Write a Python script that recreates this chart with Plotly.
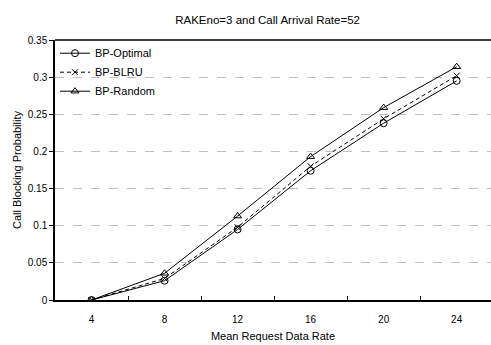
import plotly.graph_objects as go

categories = ["4", "8", "12", "16", "20", "24"]
bp_optimal = [0.0, 0.026, 0.095, 0.174, 0.238, 0.295]
bp_blru = [0.0, 0.029, 0.098, 0.180, 0.244, 0.302]
bp_random = [0.0, 0.036, 0.113, 0.193, 0.259, 0.314]
y_ticks = [0, 0.05, 0.1, 0.15, 0.2, 0.25, 0.3, 0.35]

xpos = list(range(len(categories)))
font = "Liberation Sans, Arial, sans-serif"

fig = go.Figure()
fig.add_trace(go.Scatter(x=xpos, y=bp_optimal, name="BP-Optimal", mode="lines+markers",
                         line=dict(color="black", width=1),
                         marker=dict(symbol="circle-open", size=7, color="black", line=dict(width=1))))
fig.add_trace(go.Scatter(x=xpos, y=bp_blru, name="BP-BLRU", mode="lines+markers",
                         line=dict(color="black", width=1, dash="4px,3px"),
                         marker=dict(symbol="x-thin-open", size=6, color="black", line=dict(width=1, color="black"))))
fig.add_trace(go.Scatter(x=xpos, y=bp_random, name="BP-Random", mode="lines+markers",
                         line=dict(color="black", width=1),
                         marker=dict(symbol="triangle-up-open", size=7, color="black", line=dict(width=1))))

fig.update_layout(
    width=491, height=345,
    margin=dict(l=55, r=0, t=40, b=45),
    paper_bgcolor="white", plot_bgcolor="white",
    font=dict(family=font, size=10, color="black"),
    title=dict(text="RAKEno=3 and Call Arrival Rate=52", x=0.545, xanchor="center",
               y=1 - 20/345, yanchor="middle", font=dict(size=11.5, family=font)),
    showlegend=True,
    legend=dict(x=0.0, y=1.005, xanchor="left", yanchor="top", bgcolor="rgba(0,0,0,0)",
                font=dict(size=11, family=font), tracegroupgap=0, itemwidth=30),
    xaxis=dict(range=[-0.5, 5.47], tickvals=xpos, ticktext=categories, ticks="",
               showgrid=False, zeroline=False, showline=True, linecolor="black", linewidth=1.5,
               minor=dict(tickvals=[0.5, 1.5, 2.5, 3.5, 4.5], ticks="inside", ticklen=4,
                          tickcolor="black", showgrid=False),
               ticklabelstandoff=9, automargin=False,
               title=dict(text="Mean Request Data Rate", font=dict(size=11), standoff=9),
               tickfont=dict(size=10)),
    yaxis=dict(range=[0, 0.35], tickvals=y_ticks, ticktext=["0", "0.05", "0.1", "0.15", "0.2", "0.25", "0.3", "0.35"],
               ticks="outside", ticklen=4, tickcolor="black",
               showgrid=True, gridcolor="#c0c0c0", griddash="dash", gridwidth=1,
               zeroline=False, showline=True, linecolor="black", linewidth=1.5, automargin=False,
               title=dict(text="Call Blocking Probability", font=dict(size=11), standoff=4),
               tickfont=dict(size=10)),
    shapes=[dict(type="line", xref="paper", yref="paper", x0=0, x1=1, y0=1, y1=1,
                 line=dict(color="black", width=1.5))],
)

fig.write_html("out.html")
